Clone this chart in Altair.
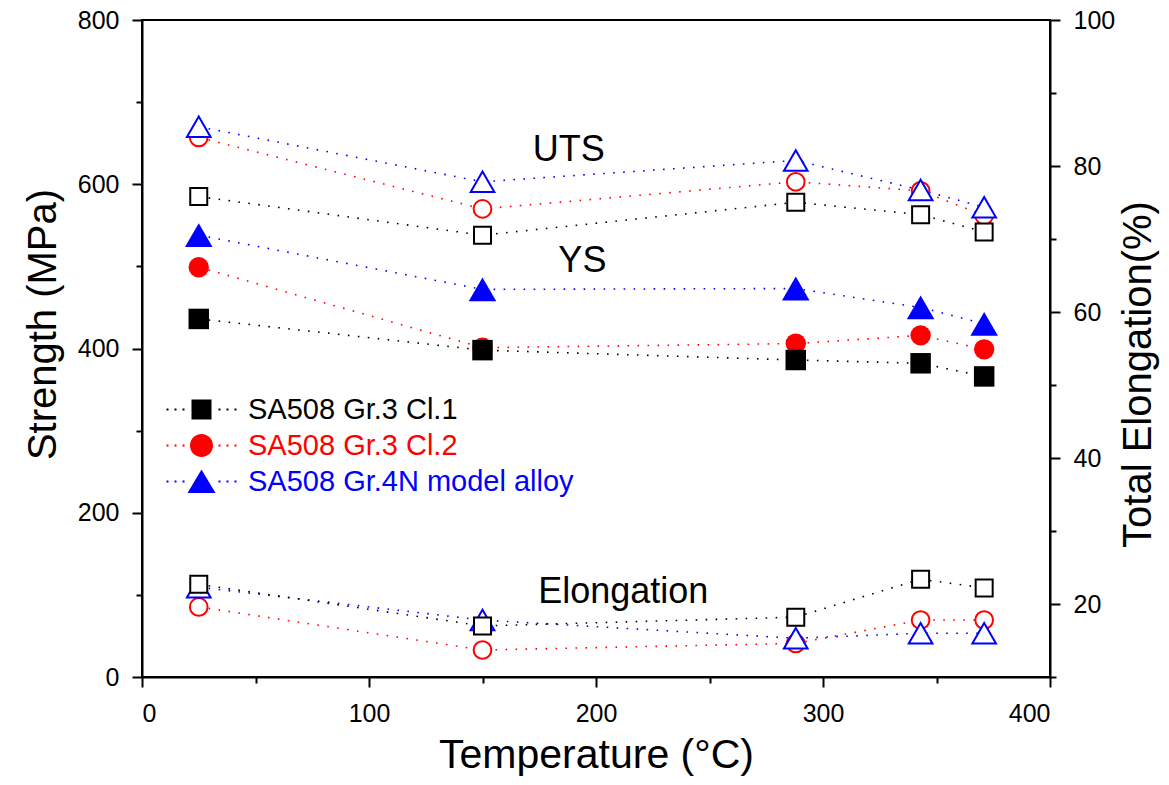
import altair as alt
import pandas as pd

# ---------------- data ----------------
temps = [25, 150, 288, 343, 371]
alloys = ["SA508 Gr.3 Cl.1", "SA508 Gr.3 Cl.2", "SA508 Gr.4N model alloy"]
colors = ["#000000", "#ff0000", "#0000ff"]
shapes = ["square", "circle", "triangle-up"]

uts_cl1 = [585, 538, 578, 563, 542]
uts_cl2 = [657, 570, 603, 592, 562]
uts_4n = [670, 603, 629, 593, 572]

ys_cl1 = [436, 398, 386, 382, 366]
ys_cl2 = [499, 401, 406, 416, 399]
ys_4n = [538, 472, 473, 450, 430]

el_cl1 = [22.7, 17.0, 18.2, 23.4, 22.2]
el_cl2 = [19.6, 13.7, 14.6, 17.8, 17.8]
el_4n = [22.3, 17.8, 15.3, 16.0, 16.0]

ann_labels = ["UTS", "YS", "Elongation"]
ann_temp = [188, 194, 212]
ann_strength = [628, 493, 90]

uts = [uts_cl1, uts_cl2, uts_4n]
ys = [ys_cl1, ys_cl2, ys_4n]
el = [el_cl1, el_cl2, el_4n]

draw_order = [1, 2, 0]  # red, then blue, black on top

rows_s, rows_e = [], []
for i in draw_order:
    for prop, vals in (("UTS", uts[i]), ("YS", ys[i])):
        for t, v in zip(temps, vals):
            rows_s.append({"alloy": alloys[i], "prop": prop, "series": alloys[i] + prop, "temp": t, "value": v})
    for t, v in zip(temps, el[i]):
        rows_e.append({"alloy": alloys[i], "temp": t, "value": v})
df_s = pd.DataFrame(rows_s)
df_e = pd.DataFrame(rows_e)
df_ann = pd.DataFrame({"label": ann_labels, "temp": ann_temp, "value": ann_strength})

FONT = "Liberation Sans"
open_sizes = [289, 314, 560]
filled_sizes = [420, 415, 760]

X = alt.X(
    "temp:Q",
    scale=alt.Scale(domain=[0, 400], nice=False),
    axis=alt.Axis(
        values=list(range(0, 401, 50)),
        labelExpr="datum.value % 100 === 0 ? datum.label : ''",
        tickSize={"condition": {"test": "datum.value % 100 === 0", "value": 10}, "value": 6},
        labelPadding=14,
        title="Temperature (°C)",
        titlePadding=9,
        titleFontSize=41,
    ),
)
YS_ = alt.Y(
    "value:Q",
    scale=alt.Scale(domain=[0, 800], nice=False),
    axis=alt.Axis(
        orient="left",
        values=list(range(0, 801, 100)),
        labelExpr="datum.value % 200 === 0 ? datum.label : ''",
        tickSize={"condition": {"test": "datum.value % 200 === 0", "value": 10}, "value": 6},
        labelPadding=13,
        title="Strength (MPa)",
        titlePadding=14,
        titleY=304,
    ),
)
YE_ = alt.Y(
    "value:Q",
    scale=alt.Scale(domain=[10, 100], nice=False),
    axis=alt.Axis(
        orient="right",
        values=list(range(10, 101, 10)),
        labelExpr="datum.value % 20 === 0 ? datum.label : ''",
        tickSize={"condition": {"test": "datum.value % 20 === 0", "value": 10}, "value": 6},
        labelPadding=13,
        title="Total Elongation(%)",
        titleAngle=270,
        titleBaseline="top",
        titlePadding=4,
        titleY=354,
    ),
)

line_color = alt.Color("alloy:N", scale=alt.Scale(domain=alloys, range=colors), legend=None)
dash = [1.6, 8.4]

lines_s = alt.Chart(df_s).mark_line(strokeDash=dash, strokeWidth=1.6).encode(
    x=X, y=YS_, color=line_color, detail="series:N"
)
lines_e = alt.Chart(df_e).mark_line(strokeDash=dash, strokeWidth=1.6).encode(
    x=X, y=YE_, color=line_color
)


def open_pts(df, y, i, prop=None):
    c = alt.Chart(df).transform_filter(alt.datum.alloy == alloys[i])
    if prop:
        c = c.transform_filter(alt.datum.prop == prop)
    return c.mark_point(
        shape=shapes[i], size=open_sizes[i], filled=False, fill="white",
        stroke=colors[i], strokeWidth=2, opacity=1
    ).encode(x=X, y=y)


def filled_pts(df, y, i, prop):
    return alt.Chart(df).transform_filter(alt.datum.alloy == alloys[i]).transform_filter(
        alt.datum.prop == prop
    ).mark_point(
        shape=shapes[i], size=filled_sizes[i], filled=True, fill=colors[i],
        strokeWidth=0, opacity=1
    ).encode(x=X, y=y)


ann = alt.Chart(df_ann).mark_text(
    font=FONT, fontSize=36, align="center", baseline="alphabetic", color="black"
).encode(x=X, y=YS_, text="label:N")

strength = alt.layer(
    lines_s,
    *[open_pts(df_s, YS_, i, "UTS") for i in draw_order],
    *[filled_pts(df_s, YS_, i, "YS") for i in draw_order],
    ann,
)
elong = alt.layer(lines_e, *[open_pts(df_e, YE_, i) for i in draw_order])

# legend: dotted line segment plus the marker, drawn as one custom symbol
dot_x = [-3.4, -2.6, -1.8, 1.8, 2.6, 3.4]
dots = "".join(f"M{x - 0.1:.2f},-0.1h0.2v0.2h-0.2Z" for x in dot_x)
legend_paths = [
    dots + "M-1,-1H1V1H-1Z",
    dots + "M-1.15,0A1.15,1.15,0,1,1,1.15,0A1.15,1.15,0,1,1,-1.15,0Z",
    dots + "M0,-1.2L1.4,1.15L-1.4,1.15Z",
]
label_color_expr = (
    "datum.label === 'SA508 Gr.3 Cl.2' ? '#ff0000' : "
    "(datum.label === 'SA508 Gr.4N model alloy' ? '#0000ff' : '#000000')"
)
leg = alt.Legend(
    orient="none", legendX=45, legendY=375, title=None, padding=0,
    labelFont=FONT, labelFontSize=29, labelColor={"expr": label_color_expr},
    labelLimit=0, symbolSize=400, symbolStrokeWidth=0, rowPadding=6, labelOffset=32,
)
legend_layer = alt.Chart(df_s).transform_filter("false").mark_point(
    filled=True, size=400, opacity=1
).encode(
    color=alt.Color("alloy:N", scale=alt.Scale(domain=alloys, range=colors), legend=leg),
    shape=alt.Shape("alloy:N", scale=alt.Scale(domain=alloys, range=legend_paths), legend=leg),
)

chart = alt.layer(strength, elong, legend_layer).resolve_scale(
    y="independent", color="independent", shape="independent"
).properties(
    width=908, height=657,
    autosize=alt.AutoSizeParams(type="none"),
    padding={"left": 142, "top": 20, "right": 119, "bottom": 108},
).configure_view(
    stroke="black", strokeWidth=2
).configure_axis(
    domainColor="black", domainWidth=2, tickColor="black", tickWidth=2,
    labelFont=FONT, labelFontSize=25, labelColor="black",
    titleFont=FONT, titleFontSize=40, titleFontWeight="normal", titleColor="black",
    grid=False,
)

chart.save("out.html", embed_options={"renderer": "svg", "actions": False})
